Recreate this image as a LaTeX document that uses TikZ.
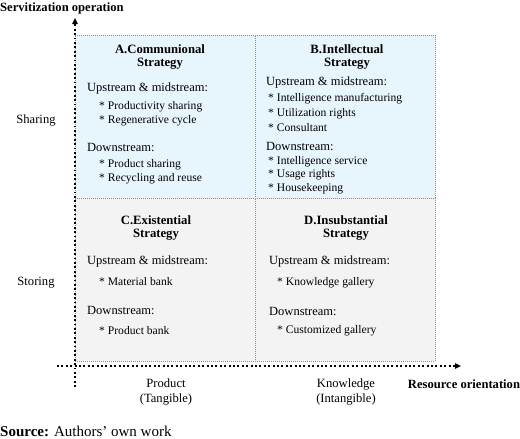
\documentclass[tikz,border=0pt]{standalone}
\usepackage{fontspec}
\setmainfont{Liberation Serif}
\usetikzlibrary{positioning, calc}
\usetikzlibrary{arrows.meta}
\definecolor{shareblue}{RGB}{231,245,253}
\definecolor{storegray}{RGB}{243,243,243}

\begin{document}
\begin{tikzpicture}[x=1pt,y=-1pt]
	\def \rowtitle{57}
	\def \rowtitlelow{228}
	\def \colleft{87}
	\def \colright{266}
	\tikzstyle{q-box}=[draw=black!45, dash pattern=on 1pt off 1pt, line width=0.5pt, minimum width=180pt, minimum height=163pt, anchor=north west, inner sep=0pt]
	\tikzstyle{q-title}=[font=\fontsize{12.7}{13.8}\selectfont\bfseries, align=center]
	\tikzstyle{hd-node}=[font=\fontsize{12.5}{14}\selectfont, anchor=west, inner sep=0pt]
	\tikzstyle{it-node}=[font=\fontsize{11.6}{12}\selectfont, anchor=west, inner sep=0pt]
	\tikzstyle{ax-lbl}=[font=\fontsize{12.6}{15}\selectfont, align=center]
	\tikzstyle{ax-name}=[font=\fontsize{12.6}{14}\selectfont\bfseries, inner sep=0pt]
	\tikzstyle{axis}=[line width=1.9pt, dash pattern=on 1.9pt off 2.5pt, -{Triangle[length=6pt,width=5.5pt]}]
	\useasboundingbox (0,0) rectangle (520,439);

	% quadrants
	\node[q-box, fill=shareblue] (qA) at (75,35) {};
	\node[q-box, fill=shareblue] (qB) at (255,35) {};
	\node[q-box, fill=storegray] (qC) at (75,198) {};
	\node[q-box, fill=storegray] (qD) at (255,198) {};

	% A
	\node[q-title] (tA) at (160,\rowtitle) {A.Communional\\Strategy};
	\node[hd-node] (hA0) at (\colleft,88) {Upstream \& midstream:};
	\node[it-node] (iA0) at (99,107) {* Productivity sharing};
	\node[it-node] (iA1) at (99,121) {* Regenerative cycle};
	\node[hd-node] (hA1) at (\colleft,147) {Downstream:};
	\node[it-node] (iA2) at (99,165) {* Product sharing};
	\node[it-node] (iA3) at (99,179) {* Recycling and reuse};

	% B
	\node[q-title] (tB) at (347,\rowtitle) {B.Intellectual\\Strategy};
	\node[hd-node] (hB0) at (\colright,82) {Upstream \& midstream:};
	\node[it-node] (iB0) at (268,99) {* Intelligence manufacturing};
	\node[it-node] (iB1) at (268,114) {* Utilization rights};
	\node[it-node] (iB2) at (268,128) {* Consultant};
	\node[hd-node] (hB1) at (\colright,146) {Downstream:};
	\node[it-node] (iB3) at (268,162) {* Intelligence service};
	\node[it-node] (iB4) at (268,175) {* Usage rights};
	\node[it-node] (iB5) at (268,189) {* Housekeeping};

	% C
	\node[q-title] (tC) at (156,\rowtitlelow) {C.Existential\\Strategy};
	\node[hd-node] (hC0) at (\colleft,261) {Upstream \& midstream:};
	\node[it-node] (iC0) at (99,282) {* Material bank};
	\node[hd-node] (hC1) at (\colleft,310) {Downstream:};
	\node[it-node] (iC1) at (99,331) {* Product bank};

	% D
	\node[q-title] (tD) at (346,\rowtitlelow) {D.Insubstantial\\Strategy};
	\node[hd-node] (hD0) at (269,261) {Upstream \& midstream:};
	\node[it-node] (iD0) at (277,283) {* Knowledge gallery};
	\node[hd-node] (hD1) at (269,311) {Downstream:};
	\node[it-node] (iD1) at (277,331) {* Customized gallery};

	% axes
	\coordinate (yfoot) at (75,387);
	\coordinate (ytip) at (75,18);
	\coordinate (xfoot) at (57,366);
	\coordinate (xtip) at (461,366);
	\draw[axis] (yfoot) -- (ytip);
	\draw[axis] (xfoot) -- (xtip);

	% axis labels
	\node[ax-name, anchor=west] (yname) at (0,8) {Servitization operation};
	\node[ax-lbl] (share) at (36,120) {Sharing};
	\node[ax-lbl] (store) at (36,283) {Storing};
	\node[ax-lbl] (prod) at (166,392) {Product\\(Tangible)};
	\node[ax-lbl] (know) at (346,392) {Knowledge\\(Intangible)};
	\node[ax-name] (xname) at (464,384) {Resource orientation};
	\node[font=\fontsize{15}{17}\selectfont, anchor=west, inner sep=0pt] (src) at (0,431) {\textbf{Source:} Authors' own work};
\end{tikzpicture}
\end{document}
